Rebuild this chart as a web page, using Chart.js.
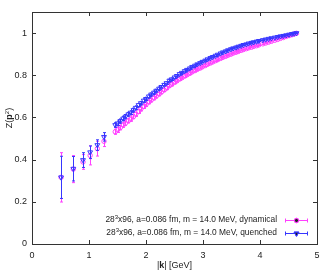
<!DOCTYPE html>
<html>
<head>
<meta charset="utf-8">
<script src="https://cdn.jsdelivr.net/npm/chart.js@4/dist/chart.umd.min.js"></script>
<style>
  body { margin: 0; background: #fff; }
  canvas { display: block; }
</style>
</head>
<body>
<canvas id="c" width="332" height="273"></canvas>
<script>
// tick labels
const xTicks = [0, 1, 2, 3, 4, 5];
const yTicks = [0, 0.2, 0.4, 0.6, 0.8, 1];

// dynamical (pink circles)
const dynK = [0.51, 0.725, 0.895, 1.02, 1.146, 1.263,
  1.46, 1.50, 1.55, 1.60, 1.64, 1.69, 1.73, 1.78, 1.82, 1.87, 1.91, 1.96, 2.00, 2.05, 2.09, 2.14, 2.18, 2.23, 2.27,
  2.32, 2.36, 2.41, 2.45, 2.50, 2.54, 2.59, 2.63, 2.68, 2.72, 2.77, 2.81, 2.86, 2.90, 2.95, 2.99, 3.04, 3.08, 3.13,
  3.17, 3.22, 3.26, 3.31, 3.35, 3.40, 3.44, 3.49, 3.53, 3.58, 3.62, 3.67, 3.71, 3.76, 3.80, 3.85, 3.89, 3.94, 3.98,
  4.05, 4.10, 4.15, 4.20, 4.26, 4.31, 4.36, 4.41, 4.46, 4.51, 4.56, 4.60, 4.64];
const dynZ = [0.316, 0.355, 0.389, 0.420, 0.452, 0.487,
  0.532, 0.541, 0.552, 0.564, 0.573, 0.584, 0.592, 0.604, 0.615, 0.628, 0.640, 0.652, 0.661, 0.673, 0.682, 0.692, 0.701, 0.711, 0.720,
  0.730, 0.739, 0.750, 0.757, 0.766, 0.773, 0.782, 0.788, 0.796, 0.802, 0.809, 0.816, 0.822, 0.828, 0.834, 0.840, 0.846, 0.852, 0.858,
  0.863, 0.869, 0.874, 0.880, 0.885, 0.890, 0.895, 0.900, 0.905, 0.909, 0.913, 0.918, 0.922, 0.926, 0.930, 0.933, 0.937, 0.940, 0.944,
  0.949, 0.953, 0.957, 0.961, 0.966, 0.970, 0.975, 0.979, 0.984, 0.988, 0.992, 0.996, 0.999];
const dynErr = [0.117, 0.064, 0.035, 0.045, 0.035, 0.025,
  0.012, 0.012, 0.011, 0.011, 0.011, 0.010, 0.010, 0.010, 0.010, 0.009, 0.009, 0.009, 0.009, 0.008, 0.008, 0.008, 0.008, 0.008, 0.007,
  0.007, 0.007, 0.007, 0.007, 0.006, 0.006, 0.006, 0.006, 0.006, 0.006, 0.005, 0.005, 0.005, 0.005, 0.005, 0.005, 0.005, 0.005, 0.005,
  0.004, 0.004, 0.004, 0.004, 0.004, 0.004, 0.004, 0.004, 0.004, 0.004, 0.004, 0.003, 0.003, 0.003, 0.003, 0.003, 0.003, 0.003, 0.003,
  0.003, 0.003, 0.003, 0.003, 0.002, 0.002, 0.002, 0.002, 0.002, 0.002, 0.002, 0.002, 0.002];

// quenched (blue triangles)
const queK = dynK;
const queZ = [0.316, 0.357, 0.398, 0.435, 0.469, 0.508,
  0.564, 0.572, 0.583, 0.595, 0.604, 0.615, 0.623, 0.635, 0.646, 0.659, 0.668, 0.680, 0.688, 0.700, 0.709, 0.718, 0.727, 0.737, 0.745,
  0.755, 0.763, 0.775, 0.781, 0.790, 0.797, 0.806, 0.812, 0.820, 0.826, 0.833, 0.840, 0.846, 0.852, 0.858, 0.864, 0.870, 0.876, 0.882,
  0.887, 0.893, 0.898, 0.904, 0.909, 0.914, 0.919, 0.924, 0.928, 0.932, 0.936, 0.940, 0.944, 0.947, 0.951, 0.954, 0.957, 0.960, 0.963,
  0.967, 0.970, 0.973, 0.976, 0.979, 0.982, 0.985, 0.987, 0.990, 0.993, 0.996, 0.998, 1.000];
const queErr = [0.100, 0.058, 0.035, 0.030, 0.025, 0.020,
  0.011, 0.011, 0.010, 0.010, 0.010, 0.009, 0.009, 0.009, 0.009, 0.008, 0.008, 0.008, 0.008, 0.007, 0.007, 0.007, 0.007, 0.007, 0.006,
  0.006, 0.006, 0.006, 0.006, 0.005, 0.005, 0.005, 0.005, 0.005, 0.005, 0.005, 0.004, 0.004, 0.004, 0.004, 0.004, 0.004, 0.004, 0.004,
  0.004, 0.004, 0.003, 0.003, 0.003, 0.003, 0.003, 0.003, 0.003, 0.003, 0.003, 0.003, 0.003, 0.003, 0.003, 0.003, 0.003, 0.003, 0.003,
  0.002, 0.002, 0.002, 0.002, 0.002, 0.002, 0.002, 0.002, 0.002, 0.002, 0.002, 0.002, 0.002];

const PINK = "#ff40ff";
const BLUE = "#3636ff";
const FONT = "'Liberation Sans', Arial, sans-serif";

const toPts = (ks, zs, es) => ks.map((k, i) => ({ x: k, y: zs[i], e: es[i] }));

// error bars, drawn just before each dataset's markers
const errorBars = {
  id: "errorBars",
  beforeDatasetDraw(chart, args) {
    const ds = chart.data.datasets[args.index];
    const xs = chart.scales.x, ys = chart.scales.y;
    const ctx = chart.ctx;
    ctx.save();
    ctx.strokeStyle = ds.borderColor;
    ctx.lineWidth = 1;
    ds.data.forEach(p => {
      const px = Math.round(xs.getPixelForValue(p.x)) + 0.5;
      const top = ys.getPixelForValue(p.y + p.e);
      const bot = ys.getPixelForValue(p.y - p.e);
      ctx.beginPath();
      ctx.moveTo(px, top); ctx.lineTo(px, bot);
      ctx.moveTo(px - 1.5, top); ctx.lineTo(px + 1.5, top);
      ctx.moveTo(px - 1.5, bot); ctx.lineTo(px + 1.5, bot);
      ctx.stroke();
    });
    ctx.restore();
  }
};

// box, inward ticks on all sides, axis titles and legend (gnuplot look)
const frame = {
  id: "frame",
  afterDraw(chart) {
    const ctx = chart.ctx;
    const a = chart.chartArea;
    const xs = chart.scales.x, ys = chart.scales.y;
    ctx.save();
    ctx.strokeStyle = "#333";
    ctx.lineWidth = 1;
    ctx.strokeRect(Math.round(a.left) + 0.5, Math.round(a.top) + 0.5, Math.round(a.right - a.left), Math.round(a.bottom - a.top));
    ctx.beginPath();
    xTicks.forEach(v => {
      const px = Math.round(xs.getPixelForValue(v)) + 0.5;
      ctx.moveTo(px, a.bottom); ctx.lineTo(px, a.bottom - 4);
      ctx.moveTo(px, a.top); ctx.lineTo(px, a.top + 4);
    });
    yTicks.forEach(v => {
      const py = Math.round(ys.getPixelForValue(v)) + 0.5;
      ctx.moveTo(a.left, py); ctx.lineTo(a.left + 4, py);
      ctx.moveTo(a.right, py); ctx.lineTo(a.right - 4, py);
    });
    ctx.stroke();

    // x title: |k| [GeV]
    ctx.fillStyle = "#222";
    ctx.textBaseline = "middle";
    const norm = "9px " + FONT, bold = "bold 9px " + FONT, sup = "6px " + FONT;
    const lnorm = "8.4px " + FONT;
    const xParts = [["|", norm], ["k", bold], ["| [GeV]", norm]];
    let w = 0;
    xParts.forEach(p => { ctx.font = p[1]; w += ctx.measureText(p[0]).width; });
    let cx = (a.left + a.right) / 2 - w / 2;
    xParts.forEach(p => { ctx.font = p[1]; ctx.textAlign = "left"; ctx.fillText(p[0], cx, 266); cx += ctx.measureText(p[0]).width; });

    // y title: Z(p^2)
    ctx.save();
    ctx.translate(10, 118);
    ctx.rotate(-Math.PI / 2);
    const yParts = [["Z(", norm, 0], ["p", bold, 0], ["2", sup, -3], [")", norm, 0]];
    w = 0;
    yParts.forEach(p => { ctx.font = p[1]; w += ctx.measureText(p[0]).width; });
    cx = -w / 2;
    yParts.forEach(p => { ctx.font = p[1]; ctx.fillText(p[0], cx, p[2]); cx += ctx.measureText(p[0]).width; });
    ctx.restore();

    // legend
    chart.data.datasets.slice().sort((p, q) => p.legendRow - q.legendRow).forEach((ds, i) => {
      const y = 220 + i * 13;
      const parts = [["28", lnorm, 0], ["3", sup, -3], [ds.label, lnorm, 0]];
      let tw = 0;
      parts.forEach(p => { ctx.font = p[1]; tw += ctx.measureText(p[0]).width; });
      let tx = 277 - tw;
      ctx.fillStyle = "#222";
      parts.forEach(p => { ctx.font = p[1]; ctx.fillText(p[0], tx, y + p[2]); tx += ctx.measureText(p[0]).width; });
      ctx.strokeStyle = ds.borderColor;
      ctx.beginPath();
      ctx.moveTo(285, y + 0.5); ctx.lineTo(308, y + 0.5);
      ctx.moveTo(285.5, y - 1.5); ctx.lineTo(285.5, y + 2.5);
      ctx.moveTo(307.5, y - 1.5); ctx.lineTo(307.5, y + 2.5);
      ctx.stroke();
      Chart.helpers.drawPoint(ctx, {
        pointStyle: ds.pointStyle, rotation: ds.rotation || 0, radius: ds.pointRadius, borderWidth: 1
      }, 296.5, y + 0.5);
      ctx.stroke();
    });
    ctx.restore();
  }
};

new Chart(document.getElementById("c"), {
  type: "scatter",
  data: {
    datasets: [
      {
        label: "x96, a=0.086 fm, m = 14.0 MeV, dynamical",
        legendRow: 0,
        data: toPts(dynK, dynZ, dynErr),
        borderColor: PINK, backgroundColor: "rgba(0,0,0,0)",
        pointStyle: "circle", pointRadius: 2.2, borderWidth: 1, order: 1
      },
      {
        label: "x96, a=0.086 fm, m = 14.0 MeV, quenched",
        legendRow: 1,
        data: toPts(queK, queZ, queErr),
        borderColor: BLUE, backgroundColor: "rgba(0,0,0,0)",
        pointStyle: "triangle", rotation: 180, pointRadius: 2.8, borderWidth: 1, order: 0
      }
    ]
  },
  options: {
    responsive: false,
    animation: false,
    devicePixelRatio: 1,
    layout: { padding: { top: 12, right: 15, left: 0, bottom: 0 } },
    plugins: { legend: { display: false }, tooltip: { enabled: false } },
    scales: {
      x: {
        type: "linear", min: 0, max: 5,
        afterBuildTicks: s => { s.ticks = xTicks.map(v => ({ value: v })); },
        afterFit: s => { s.height = 29; },
        grid: { display: false, drawTicks: false }, border: { display: false },
        ticks: { font: { size: 9, family: FONT }, color: "#222", padding: 6, maxRotation: 0, callback: v => String(v) }
      },
      y: {
        type: "linear", min: 0, max: 1.1,
        afterBuildTicks: s => { s.ticks = yTicks.map(v => ({ value: v })); },
        afterFit: s => { s.width = 32; },
        grid: { display: false, drawTicks: false }, border: { display: false },
        ticks: { font: { size: 9, family: FONT }, color: "#222", padding: 5, callback: v => String(v) }
      }
    }
  },
  plugins: [errorBars, frame]
});
</script>
</body>
</html>
